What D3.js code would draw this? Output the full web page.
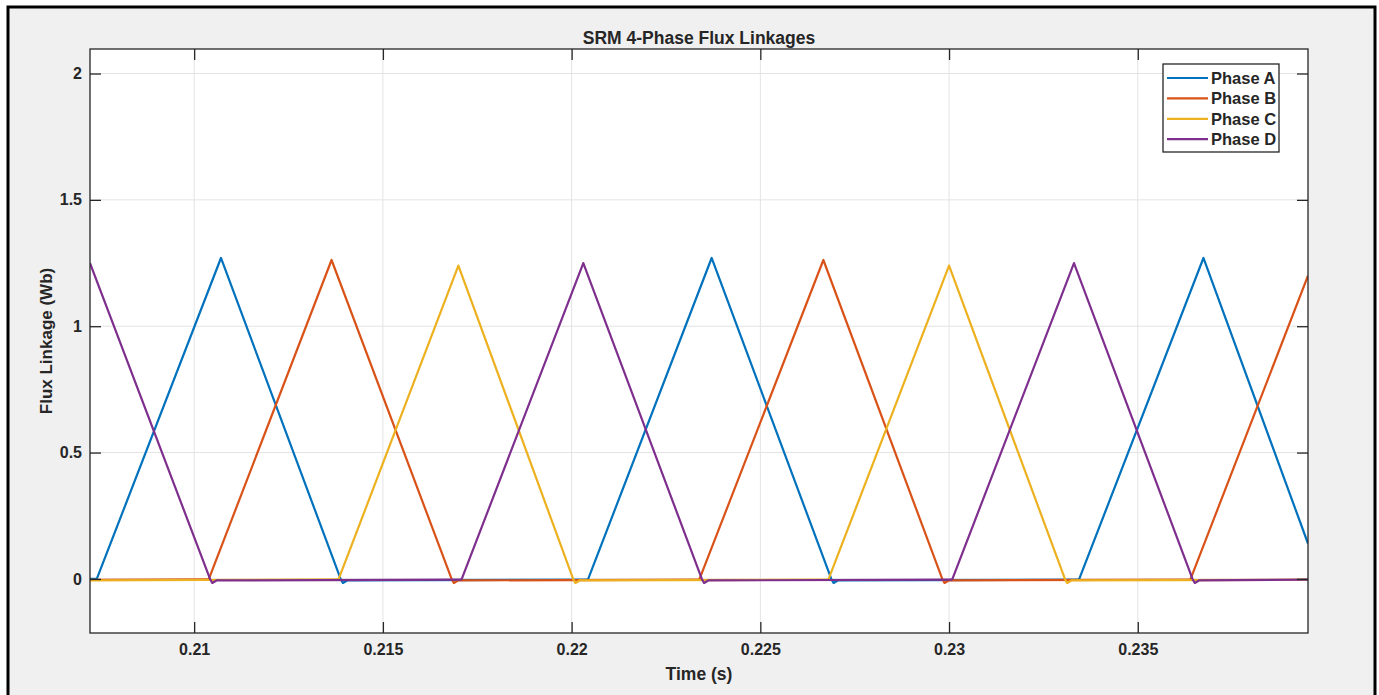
<!DOCTYPE html>
<html>
<head>
<meta charset="utf-8">
<script src="https://cdn.jsdelivr.net/npm/d3@7"></script>
<style>
  body { margin: 0; background: #fff; }
  text { font-family: "Liberation Sans", Arial, sans-serif; font-weight: bold; fill: #262626; }
</style>
</head>
<body>
<div id="d3-container"></div>
<script>
// flux linkage traces, [time (s), flux (Wb)]
const phaseA = [
  [0.20724, 0.0], [0.20742, 0.0], [0.21071, 1.27], [0.21388, 0.0], [0.21394, -0.016], [0.21405, -0.006],
  [0.2204, -0.003], [0.22044, 0.0], [0.22371, 1.27], [0.22688, 0.0], [0.22694, -0.016], [0.22705, -0.006],
  [0.23341, -0.003], [0.23345, 0.0], [0.23674, 1.27], [0.23951, 0.14]
];
const phaseB = [
  [0.20724, -0.004], [0.21035, -0.002], [0.21039, 0.0], [0.21364, 1.262], [0.21682, 0.0], [0.21688, -0.016],
  [0.21699, -0.006], [0.22335, -0.003], [0.22339, 0.0], [0.22667, 1.262], [0.22982, 0.0], [0.22988, -0.016],
  [0.22999, -0.006], [0.23636, -0.003], [0.2364, 0.0], [0.23951, 1.20]
];
const phaseC = [
  [0.20724, -0.006], [0.21379, -0.002], [0.21383, 0.0], [0.217, 1.24], [0.22004, 0.0], [0.2201, -0.016],
  [0.22021, -0.006], [0.22677, -0.003], [0.22681, 0.0], [0.23, 1.24], [0.23307, 0.0], [0.23313, -0.016],
  [0.23324, -0.006], [0.23951, -0.003]
];
const phaseD = [
  [0.20724, 1.25], [0.21042, 0.0], [0.21048, -0.016], [0.21059, -0.006], [0.21705, -0.003], [0.21709, 0.0],
  [0.22031, 1.25], [0.22345, 0.0], [0.22351, -0.016], [0.22362, -0.006], [0.23005, -0.003], [0.23009, 0.0],
  [0.23331, 1.25], [0.23645, 0.0], [0.23651, -0.016], [0.23662, -0.006], [0.23951, -0.003]
];

const seriesNames = ["Phase A", "Phase B", "Phase C", "Phase D"];
const seriesData = [phaseA, phaseB, phaseC, phaseD];
const colors = ["#0072BD", "#D95319", "#EDB120", "#7E2F8E"];

const xTicks = [0.21, 0.215, 0.22, 0.225, 0.23, 0.235];
const xTickLabels = ["0.21", "0.215", "0.22", "0.225", "0.23", "0.235"];
const yTicks = [0, 0.5, 1, 1.5, 2];
const yTickLabels = ["0", "0.5", "1", "1.5", "2"];
const xDomain = [0.20724, 0.23951];
const yDomain = [-0.214, 2.097];

const width = 1379;
const height = 695;
const margin = { top: 49, right: 71, bottom: 62, left: 90 };
const innerW = width - margin.left - margin.right;
const innerH = height - margin.top - margin.bottom;
const axisColor = "#262626";
const tickLen = 11;

const xScale = d3.scaleLinear().domain(xDomain).range([margin.left, width - margin.right]);
const yScale = d3.scaleLinear().domain(yDomain).range([height - margin.bottom, margin.top]);

const svg = d3.select("#d3-container")
  .append("svg")
  .attr("width", width)
  .attr("height", height);

// figure background + black frame
svg.append("rect")
  .attr("x", 8).attr("y", 7)
  .attr("width", 1367).attr("height", 700)
  .attr("fill", "#f0f0f0")
  .attr("stroke", "#000")
  .attr("stroke-width", 3);

svg.append("rect")
  .attr("x", margin.left).attr("y", margin.top)
  .attr("width", innerW).attr("height", innerH)
  .attr("fill", "#fff");

// grid
svg.append("g")
  .selectAll("line")
  .data(xTicks)
  .join("line")
  .attr("x1", d => xScale(d)).attr("x2", d => xScale(d))
  .attr("y1", margin.top).attr("y2", height - margin.bottom)
  .attr("stroke", "#e3e3e3");

svg.append("g")
  .selectAll("line")
  .data(yTicks)
  .join("line")
  .attr("x1", margin.left).attr("x2", width - margin.right)
  .attr("y1", d => yScale(d)).attr("y2", d => yScale(d))
  .attr("stroke", "#e3e3e3");

// traces
svg.append("clipPath").attr("id", "clip")
  .append("rect")
  .attr("x", margin.left).attr("y", margin.top)
  .attr("width", innerW).attr("height", innerH);

const line = d3.line()
  .x(d => xScale(d[0]))
  .y(d => yScale(d[1]));

svg.append("g")
  .attr("clip-path", "url(#clip)")
  .selectAll("path")
  .data(seriesData)
  .join("path")
  .attr("d", line)
  .attr("fill", "none")
  .attr("stroke", (d, i) => colors[i])
  .attr("stroke-width", 2.2)
  .attr("stroke-linejoin", "round");

// axes (ticks inside, on all four sides)
const xAxis = d3.axisBottom(xScale).tickValues(xTicks)
  .tickFormat((d, i) => xTickLabels[i]).tickSizeInner(-tickLen).tickSizeOuter(0).tickPadding(11);
const xAxisTop = d3.axisTop(xScale).tickValues(xTicks)
  .tickFormat("").tickSizeInner(-tickLen).tickSizeOuter(0);
const yAxis = d3.axisLeft(yScale).tickValues(yTicks)
  .tickFormat((d, i) => yTickLabels[i]).tickSizeInner(-tickLen).tickSizeOuter(0).tickPadding(8);
const yAxisRight = d3.axisRight(yScale).tickValues(yTicks)
  .tickFormat("").tickSizeInner(-tickLen).tickSizeOuter(0);

const styleAxis = g => {
  g.selectAll(".domain").remove();
  g.selectAll(".tick line").attr("stroke", axisColor).attr("stroke-width", 1.3);
  g.selectAll(".tick text").attr("font-size", 16).attr("fill", axisColor)
    .attr("font-family", "'Liberation Sans', Arial, sans-serif").attr("font-weight", "bold");
};

svg.append("g")
  .attr("transform", `translate(0,${height - margin.bottom})`)
  .call(xAxis).call(styleAxis);
svg.append("g")
  .attr("transform", `translate(0,${margin.top})`)
  .call(xAxisTop).call(styleAxis);
svg.append("g")
  .attr("transform", `translate(${margin.left},0)`)
  .call(yAxis).call(styleAxis);
svg.append("g")
  .attr("transform", `translate(${width - margin.right},0)`)
  .call(yAxisRight).call(styleAxis);

svg.append("rect")
  .attr("x", margin.left).attr("y", margin.top)
  .attr("width", innerW).attr("height", innerH)
  .attr("fill", "none")
  .attr("stroke", axisColor)
  .attr("stroke-width", 1.3);

// labels
svg.append("text")
  .attr("x", margin.left + innerW / 2).attr("y", 44)
  .attr("text-anchor", "middle")
  .attr("font-size", 17.5)
  .text("SRM 4-Phase Flux Linkages");

svg.append("text")
  .attr("x", margin.left + innerW / 2).attr("y", 680)
  .attr("text-anchor", "middle")
  .attr("font-size", 17.5)
  .text("Time (s)");

svg.append("text")
  .attr("transform", `translate(52,${margin.top + innerH / 2}) rotate(-90)`)
  .attr("text-anchor", "middle")
  .attr("font-size", 17)
  .text("Flux Linkage (Wb)");

// legend
const legend = svg.append("g").attr("transform", "translate(1163,64)");
legend.append("rect")
  .attr("width", 116).attr("height", 88)
  .attr("fill", "#fff")
  .attr("stroke", axisColor)
  .attr("stroke-width", 1.3);

const entry = legend.selectAll("g.entry")
  .data(seriesNames)
  .join("g")
  .attr("class", "entry")
  .attr("transform", (d, i) => `translate(0,${14 + i * 20.4})`);
entry.append("line")
  .attr("x1", 4).attr("x2", 45)
  .attr("stroke", (d, i) => colors[i])
  .attr("stroke-width", 2.2);
entry.append("text")
  .attr("x", 48).attr("dy", "0.35em")
  .attr("font-size", 16.5)
  .text(d => d);
</script>
</body>
</html>
